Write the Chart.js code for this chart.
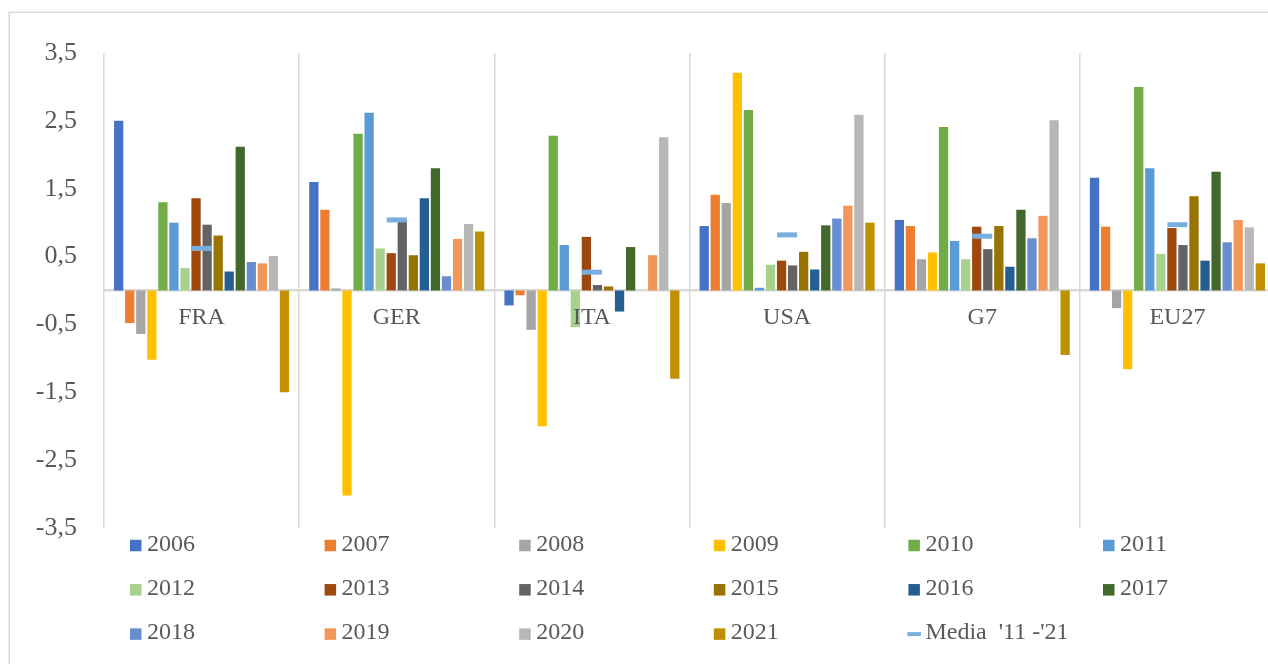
<!DOCTYPE html>
<html>
<head>
<meta charset="utf-8">
<script src="https://cdn.jsdelivr.net/npm/chart.js@4.4.1/dist/chart.umd.min.js"></script>
<style>
html,body{margin:0;padding:0;overflow:hidden;background:#fff}
#wrap{position:relative;width:1290px;height:664px}
</style>
</head>
<body>
<div id="wrap"><canvas id="c" width="1290" height="664"></canvas></div>
<script>
const categories = ['FRA', 'GER', 'ITA', 'USA', 'G7', 'EU27'];
const yTicks = [-3.5, -2.5, -1.5, -0.5, 0.5, 1.5, 2.5, 3.5];
const years = ['2006','2007','2008','2009','2010','2011','2012','2013','2014','2015','2016','2017','2018','2019','2020','2021'];

const v2006 = [2.50, 1.60, -0.22, 0.95, 1.04, 1.66];
const v2007 = [-0.48, 1.19, -0.07, 1.41, 0.95, 0.94];
const v2008 = [-0.64, 0.03, -0.58, 1.29, 0.46, -0.26];
const v2009 = [-1.02, -3.02, -2.00, 3.21, 0.56, -1.16];
const v2010 = [1.30, 2.31, 2.28, 2.66, 2.41, 3.00];
const v2011 = [1.00, 2.62, 0.67, 0.04, 0.73, 1.80];
const v2012 = [0.33, 0.62, -0.54, 0.38, 0.46, 0.54];
const v2013 = [1.36, 0.55, 0.79, 0.44, 0.94, 0.92];
const v2014 = [0.97, 1.04, 0.08, 0.37, 0.61, 0.67];
const v2015 = [0.81, 0.52, 0.06, 0.57, 0.95, 1.39];
const v2016 = [0.28, 1.36, -0.31, 0.31, 0.35, 0.44];
const v2017 = [2.12, 1.80, 0.64, 0.96, 1.19, 1.75];
const v2018 = [0.42, 0.21, 0.00, 1.06, 0.77, 0.71];
const v2019 = [0.40, 0.76, 0.52, 1.25, 1.10, 1.04];
const v2020 = [0.51, 0.98, 2.26, 2.59, 2.51, 0.93];
const v2021 = [-1.50, 0.87, -1.30, 1.00, -0.95, 0.40];
const media = [0.62, 1.04, 0.27, 0.82, 0.80, 0.97];
const mediaLabel = "Media  '11 -'21";

const seriesValues = [v2006, v2007, v2008, v2009, v2010, v2011, v2012, v2013, v2014, v2015, v2016, v2017, v2018, v2019, v2020, v2021];
const seriesColors = ['#4472C4','#ED7D31','#A5A5A5','#FFC000','#70AD47','#5B9BD5','#A9D18E','#9E480E','#636363','#997300','#255E91','#43682B','#698ED0','#F1975A','#B7B7B7','#BF9000'];
const mediaColor = '#7AAEDF';

const FONT = "'Liberation Serif', 'Times New Roman', serif";
const TXT = '#595959';
const GRID = '#D9D9D9';

const datasets = years.map((y, i) => ({
  type: 'bar',
  label: y,
  data: seriesValues[i],
  backgroundColor: seriesColors[i],
  borderWidth: 0,
  categoryPercentage: 0.906,
  barPercentage: 0.84
}));
datasets.push({
  type: 'line',
  label: mediaLabel,
  data: media,
  showLine: false,
  order: -1,
  pointStyle: 'line',
  pointRadius: 10,
  pointHoverRadius: 10,
  borderColor: mediaColor,
  backgroundColor: mediaColor,
  pointBorderWidth: 5,
  borderWidth: 5
});

const framePlugin = {
  id: 'frame',
  beforeDraw(chart) {
    const ctx = chart.ctx;
    ctx.save();
    ctx.strokeStyle = GRID;
    ctx.lineWidth = 1.5;
    ctx.strokeRect(9.25, 12.25, 1300, 700);
    ctx.restore();
  }
};

const gridLegend = {
  id: 'gridLegend',
  afterDraw(chart) {
    const ctx = chart.ctx;
    const x0 = 130, dx = 194.6, y0 = 545.5, dy = 44.3;
    ctx.save();
    ctx.font = '24px ' + FONT;
    ctx.textBaseline = 'middle';
    ctx.textAlign = 'left';
    chart.data.datasets.forEach((ds, i) => {
      const col = i % 6, row = Math.floor(i / 6);
      const x = x0 + col * dx, y = y0 + row * dy;
      if (ds.type === 'line') {
        ctx.fillStyle = ds.borderColor;
        ctx.fillRect(x - 1, y - 2, 13.5, 4);
        ctx.fillStyle = TXT;
        ctx.fillText(ds.label, x + 17, y - 1);
      } else {
        ctx.fillStyle = ds.backgroundColor;
        ctx.fillRect(x, y - 5.75, 11.5, 11.5);
        ctx.fillStyle = TXT;
        ctx.fillText(ds.label, x + 17, y - 1);
      }
    });
    ctx.restore();
  }
};

new Chart(document.getElementById('c'), {
  data: { labels: categories, datasets },
  options: {
    responsive: false,
    animation: false,
    events: [],
    layout: { padding: { left: 0, right: 14, top: 53, bottom: 136 } },
    plugins: { legend: { display: false }, tooltip: { enabled: false } },
    scales: {
      x: {
        type: 'category',
        position: { y: 0 },
        offset: true,
        grid: { display: true, color: GRID, lineWidth: 1.5, offset: true, drawTicks: false },
        border: { display: true, color: GRID, width: 2.5 },
        ticks: { z: 1, color: TXT, font: { family: FONT, size: 24 }, padding: 13, maxRotation: 0, autoSkip: false }
      },
      y: {
        position: 'left',
        min: -3.5,
        max: 3.5,
        grid: { display: false, drawTicks: false },
        border: { display: false },
        afterBuildTicks(scale) { scale.ticks = yTicks.map(v => ({ value: v })); },
        afterFit(scale) { scale.width = 104; },
        ticks: {
          color: TXT,
          font: { family: FONT, size: 26 },
          padding: 27,
          callback: (v) => String(v).replace('.', ',')
        }
      }
    }
  },
  plugins: [framePlugin, gridLegend]
});
</script>
</body>
</html>
